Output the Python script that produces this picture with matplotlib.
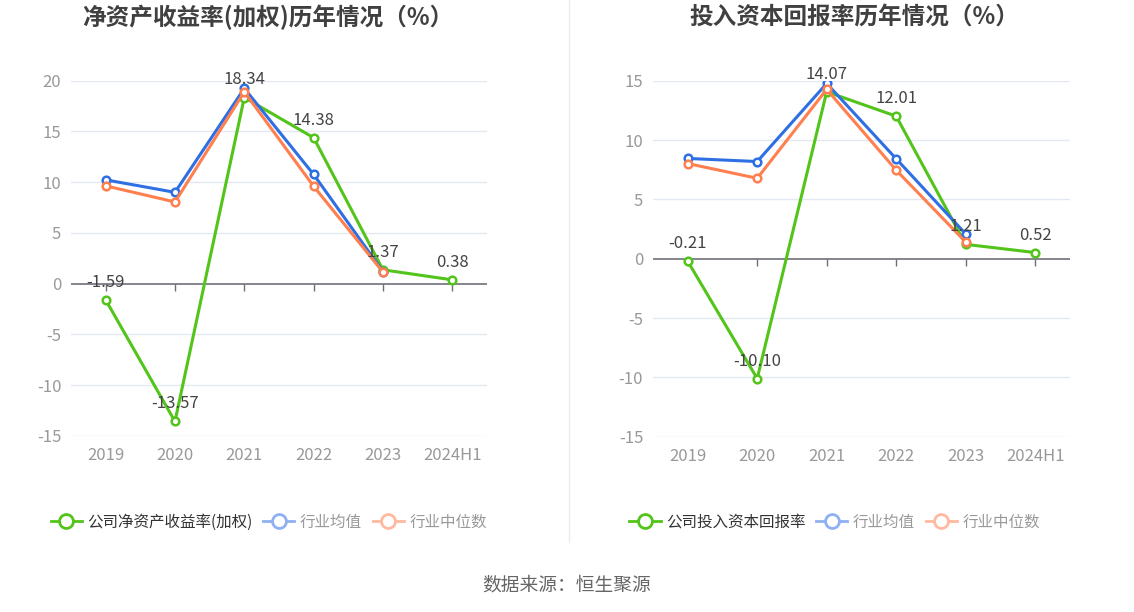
import matplotlib
matplotlib.use("Agg")
import matplotlib.pyplot as plt
from matplotlib.lines import Line2D

plt.rcParams['font.family'] = ['Noto Sans CJK SC', 'DejaVu Sans']
plt.rcParams['axes.unicode_minus'] = False

years = ["2019", "2020", "2021", "2022", "2023", "2024H1"]

# 净资产收益率(加权)
roe_company = [-1.59, -13.57, 18.34, 14.38, 1.37, 0.38]
roe_mean = [10.23, 9.0, 19.24, 10.76, 1.19]
roe_median = [9.64, 8.05, 18.9, 9.6, 1.15]

# 投入资本回报率
roic_company = [-0.21, -10.10, 14.07, 12.01, 1.21, 0.52]
roic_mean = [8.45, 8.19, 14.77, 8.42, 2.09]
roic_median = [8.02, 6.78, 14.27, 7.46, 1.41]

green = "#52c41a"
blue = "#2f6fe4"
orange = "#ff7f4f"
grid_col = "#e3e8f3"
axis_col = "#6e7079"
tick_col = "#999999"
label_col = "#444444"

fig = plt.figure(figsize=(11.34, 6.12), dpi=100)


def draw_panel(rect, company, mean, median, ylim, title, title_x, legend_name, legend_x):
    ax = fig.add_axes(rect)
    x = list(range(len(years)))
    xs = x[:len(mean)]

    for v in range(ylim[0], ylim[1] + 1, 5):
        if v != 0:
            ax.axhline(v, color=grid_col, lw=1, zorder=0)
    ax.axhline(0, color=axis_col, lw=1.2, zorder=1)

    style = dict(lw=2.2, marker='o', markersize=5.5, markerfacecolor='white', markeredgewidth=1.8)
    ax.plot(x, company, color=green, zorder=3, **style)
    ax.plot(xs, mean, color=blue, zorder=4, **style)
    ax.plot(xs, median, color=orange, zorder=5, **style)

    for xi, v in zip(x, company):
        ax.annotate(f"{v:.2f}", (xi, v), xytext=(0, 6.5), textcoords='offset points',
                    ha='center', va='bottom', fontsize=12, color=label_col, zorder=6)

    ax.set_xlim(-0.5, len(years) - 0.5)
    ax.set_ylim(ylim)
    ax.set_yticks(range(ylim[0], ylim[1] + 1, 5))
    ax.set_xticks(x)
    ax.set_xticklabels(years)
    ax.tick_params(axis='x', length=0, pad=8, labelsize=12, labelcolor=tick_col)
    ax.tick_params(axis='y', length=0, pad=7, labelsize=12, labelcolor=tick_col)
    for s in ax.spines.values():
        s.set_visible(False)

    # small tick marks on the zero line
    zero_pos = (0 - ylim[0]) / (ylim[1] - ylim[0])
    sec = ax.secondary_xaxis(zero_pos)
    sec.set_xticks(x)
    sec.tick_params(axis='x', direction='out', length=5, width=1, color=axis_col,
                    labelbottom=False, labeltop=False, bottom=True, top=False)
    for s in sec.spines.values():
        s.set_visible(False)

    fig.text(title_x, 0.971, title, ha='center', va='center', fontsize=17,
             fontweight='bold', color='#404040')

    handles = [
        Line2D([], [], color=green, lw=2, marker='o', markersize=10,
               markerfacecolor='white', markeredgewidth=2),
        Line2D([], [], color='#8fb0f2', lw=2, marker='o', markersize=10,
               markerfacecolor='white', markeredgewidth=2),
        Line2D([], [], color='#ffb9a0', lw=2, marker='o', markersize=10,
               markerfacecolor='white', markeredgewidth=2),
    ]
    leg = fig.legend(handles, [legend_name, "行业均值", "行业中位数"], loc='center',
                     bbox_to_anchor=(legend_x, 0.147), ncol=3, frameon=False,
                     fontsize=11.2, handlelength=2.0, handletextpad=0.35,
                     columnspacing=0.7)
    texts = leg.get_texts()
    texts[0].set_color('#333333')
    texts[1].set_color('#999999')
    texts[2].set_color('#999999')
    return ax


draw_panel([0.0626, 0.2876, 0.3668, 0.5806], roe_company, roe_mean, roe_median,
           (-15, 20), "净资产收益率(加权)历年情况（%）", 0.236, "公司净资产收益率(加权)", 0.237)
draw_panel([0.5758, 0.2864, 0.3677, 0.5817], roic_company, roic_mean, roic_median,
           (-15, 15), "投入资本回报率历年情况（%）", 0.753, "公司投入资本回报率", 0.736)

# divider between the two panels
fig.add_artist(Line2D([0.502, 0.502], [0.115, 1.0], transform=fig.transFigure,
                      color='#ececec', lw=1))

fig.text(0.5, 0.044, "数据来源：恒生聚源", ha='center', va='center', fontsize=13.5,
         color='#666666')

fig.savefig("out.png", dpi=100, facecolor='white')
